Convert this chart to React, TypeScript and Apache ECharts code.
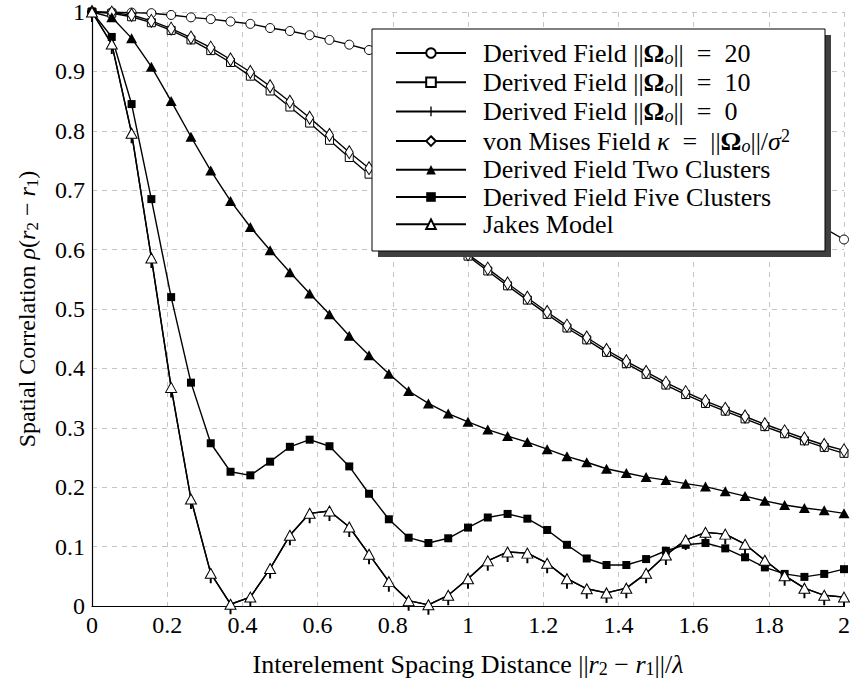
import React, { useEffect, useRef } from "react";
import * as echarts from "echarts";

const X_VALUES = [
  0, 0.0526, 0.1053, 0.1579, 0.2105, 0.2632, 0.3158, 0.3684, 0.4211, 0.4737,
  0.5263, 0.5789, 0.6316, 0.6842, 0.7368, 0.7895, 0.8421, 0.8947, 0.9474, 1.0,
  1.0526, 1.1053, 1.1579, 1.2105, 1.2632, 1.3158, 1.3684, 1.4211, 1.4737, 1.5263,
  1.5789, 1.6316, 1.6842, 1.7368, 1.7895, 1.8421, 1.8947, 1.9474, 2.0,
];

const OMEGA20 = [
  1.0, 0.9995, 0.999, 0.998, 0.995, 0.991, 0.988, 0.984, 0.98, 0.973,
  0.968, 0.961, 0.953, 0.945, 0.936, 0.927, 0.917, 0.907, 0.897, 0.887,
  0.876, 0.864, 0.853, 0.841, 0.828, 0.816, 0.803, 0.789, 0.775, 0.761,
  0.747, 0.732, 0.717, 0.701, 0.686, 0.669, 0.653, 0.636, 0.617,
];

const OMEGA10 = [
  1.0, 0.998, 0.992, 0.982, 0.969, 0.953, 0.935, 0.915, 0.892, 0.867,
  0.84, 0.813, 0.784, 0.755, 0.727, 0.7, 0.672, 0.644, 0.616, 0.589,
  0.564, 0.539, 0.515, 0.491, 0.468, 0.448, 0.427, 0.408, 0.39, 0.372,
  0.356, 0.341, 0.328, 0.315, 0.302, 0.29, 0.278, 0.267, 0.257,
];

const OMEGA0 = [
  1.0, 0.946, 0.796, 0.586, 0.368, 0.18, 0.055, 0.003, 0.015, 0.063,
  0.119, 0.156, 0.16, 0.133, 0.087, 0.041, 0.009, 0.002, 0.018, 0.046,
  0.076, 0.091, 0.089, 0.072, 0.046, 0.029, 0.022, 0.03, 0.055, 0.086,
  0.111, 0.124, 0.121, 0.104, 0.077, 0.051, 0.03, 0.018, 0.015,
];

const VON_MISES = [
  1.0, 0.999, 0.995, 0.985, 0.972, 0.957, 0.94, 0.92, 0.899, 0.875,
  0.849, 0.822, 0.793, 0.764, 0.737, 0.708, 0.679, 0.65, 0.621, 0.592,
  0.568, 0.543, 0.519, 0.495, 0.472, 0.452, 0.431, 0.412, 0.394, 0.376,
  0.36, 0.345, 0.332, 0.319, 0.306, 0.294, 0.282, 0.271, 0.262,
];

const TWO_CLUSTERS = [
  1.0, 0.991, 0.956, 0.908, 0.85, 0.79, 0.733, 0.682, 0.638, 0.599,
  0.562, 0.526, 0.491, 0.455, 0.422, 0.391, 0.362, 0.341, 0.324, 0.31,
  0.297, 0.286, 0.276, 0.264, 0.252, 0.242, 0.231, 0.224, 0.217, 0.212,
  0.206, 0.201, 0.193, 0.185, 0.177, 0.17, 0.165, 0.161, 0.156,
];

const FIVE_CLUSTERS = [
  1.0, 0.958, 0.845, 0.685, 0.52, 0.376, 0.274, 0.226, 0.22, 0.243,
  0.268, 0.28, 0.269, 0.235, 0.189, 0.146, 0.115, 0.106, 0.114, 0.132,
  0.149, 0.155, 0.147, 0.128, 0.103, 0.08, 0.069, 0.069, 0.079, 0.093,
  0.103, 0.106, 0.097, 0.082, 0.065, 0.054, 0.049, 0.054, 0.062,
];

const JAKES = [
  1.0, 0.946, 0.796, 0.586, 0.368, 0.18, 0.055, 0.003, 0.015, 0.063,
  0.119, 0.156, 0.16, 0.133, 0.087, 0.041, 0.009, 0.002, 0.018, 0.046,
  0.076, 0.091, 0.089, 0.072, 0.046, 0.029, 0.022, 0.03, 0.055, 0.086,
  0.111, 0.124, 0.121, 0.104, 0.077, 0.051, 0.03, 0.018, 0.015,
];

const SERIES_NAMES = [
  "Derived Field Omega 20",
  "Derived Field Omega 10",
  "Derived Field Omega 0",
  "von Mises Field",
  "Derived Field Two Clusters",
  "Derived Field Five Clusters",
  "Jakes Model",
];

const LEGEND_RICH_LABELS: Record<string, string> = {
  "Derived Field Omega 20": "{n|Derived Field ||}{b|Ω}{sub|o}{n|||  =  20}",
  "Derived Field Omega 10": "{n|Derived Field ||}{b|Ω}{sub|o}{n|||  =  10}",
  "Derived Field Omega 0": "{n|Derived Field ||}{b|Ω}{sub|o}{n|||  =  0}",
  "von Mises Field": "{n|von Mises Field }{i|κ}{n|  =  ||}{b|Ω}{sub|o}{n|||/}{i|σ}{sup|2}",
  "Derived Field Two Clusters": "{n|Derived Field Two Clusters}",
  "Derived Field Five Clusters": "{n|Derived Field Five Clusters}",
  "Jakes Model": "{n|Jakes Model}",
};

const X_TITLE = "{n|Interelement Spacing Distance ||}{i|r}{subu|2}{n| − }{i|r}{subu|1}{n|||/}{i|λ}";
const Y_TITLE = "{n|Spatial Correlation }{i|ρ}{n|(}{i|r}{subu|2}{n| − }{i|r}{subu|1}{n|)}";

const FONT = "Liberation Serif, Times New Roman, serif";

function richStyles(size: number, lh: number) {
  const s = Math.round(size * 0.7);
  const p = Math.round(size * 0.4);
  const common = { fontFamily: FONT, color: "#000", lineHeight: lh };
  return {
    n: { ...common, fontSize: size, fontStyle: "normal", fontWeight: "normal" },
    i: { ...common, fontSize: size, fontStyle: "italic", fontWeight: "normal" },
    b: { ...common, fontSize: size, fontStyle: "normal", fontWeight: "bold" },
    sub: { ...common, fontSize: s, fontStyle: "italic", fontWeight: "normal", padding: [p, 0, 0, 0] },
    subu: { ...common, fontSize: s, fontStyle: "normal", fontWeight: "normal", padding: [p, 0, 0, 0] },
    sup: { ...common, fontSize: s, fontStyle: "normal", fontWeight: "normal", padding: [0, 0, p + 1, 0] },
    t: { ...common, fontSize: 24, fontStyle: "normal", fontWeight: "normal", lineHeight: 26 },
  };
}

const BAR_SYMBOL = "path://M0,5L10,5M4.3,0L5.7,0L5.7,10L4.3,10Z";

function tickFormatter(v: number) {
  const s = String(Math.round(v * 10) / 10);
  return "{t|" + s + "}";
}

export default function App() {
  const ref = useRef<HTMLDivElement>(null);

  useEffect(() => {
    document.body.style.margin = "0";
    if (!ref.current) return;
    const chart = echarts.init(ref.current, null, { renderer: "svg" });

    const mk = (vals: number[]) => X_VALUES.map((x, i) => [x, vals[i]]);

    const base = (
      name: string,
      vals: number[],
      symbol: string,
      size: any,
      fill: string,
      border: number,
      offset: number[] = [0, 0]
    ) => ({
      name,
      type: "line",
      data: mk(vals),
      symbol,
      symbolSize: size,
      symbolOffset: offset,
      showAllSymbol: true,
      clip: false,
      lineStyle: { color: "#000", width: 1.4 },
      itemStyle: { color: fill, borderColor: "#000", borderWidth: border, opacity: 1 },
      emphasis: { disabled: true },
      z: 2,
    });

    const series = [
      base(SERIES_NAMES[0], OMEGA20, "circle", 9, "#fff", 1),
      base(SERIES_NAMES[1], OMEGA10, "rect", 8, "#fff", 1),
      base(SERIES_NAMES[2], OMEGA0, BAR_SYMBOL, 14, "#000", 0, [0, 3]),
      base(SERIES_NAMES[3], VON_MISES, "diamond", [8, 13], "#fff", 1),
      base(SERIES_NAMES[4], TWO_CLUSTERS, "triangle", [11, 10], "#000", 0),
      base(SERIES_NAMES[5], FIVE_CLUSTERS, "rect", 8, "#000", 0),
      base(SERIES_NAMES[6], JAKES, "triangle", [11, 10], "#fff", 1),
    ];

    const axisLabelStyle = {
      fontFamily: FONT,
      fontSize: 24,
      fontStyle: "normal",
      fontWeight: "normal",
      color: "#000",
      formatter: tickFormatter,
      rich: richStyles(24, 26),
    };
    const splitLine = { show: true, lineStyle: { color: "#c4c4c4", type: [5, 5], width: 1 } };

    chart.setOption({
      animation: false,
      textStyle: { fontFamily: FONT, fontStyle: "normal", fontWeight: "normal" },
      grid: { left: 92, right: 5, top: 12, bottom: 76, containLabel: false },
      xAxis: {
        type: "value",
        min: 0,
        max: 2,
        interval: 0.2,
        name: X_TITLE,
        nameLocation: "middle",
        nameGap: 43,
        nameTextStyle: { fontFamily: FONT, fontSize: 26, rich: richStyles(26, 30) },
        axisLine: { show: true, onZero: false, lineStyle: { color: "#000", width: 1.2 } },
        axisTick: { show: false },
        axisLabel: { ...axisLabelStyle, margin: 6 },
        splitLine,
      },
      yAxis: {
        type: "value",
        min: 0,
        max: 1,
        interval: 0.1,
        name: Y_TITLE,
        nameLocation: "middle",
        nameGap: 51,
        nameTextStyle: { fontFamily: FONT, fontSize: 24, rich: richStyles(24, 28) },
        axisLine: { show: true, onZero: false, lineStyle: { color: "#000", width: 1.2 } },
        axisTick: { show: false },
        axisLabel: { ...axisLabelStyle, margin: 7 },
        splitLine,
      },
      legend: {
        show: true,
        orient: "vertical",
        left: 395,
        top: 39,
        padding: 0,
        itemWidth: 70,
        itemHeight: 12,
        itemGap: 1.2,
        selectedMode: false,
        z: 20,
        data: SERIES_NAMES,
        formatter: (name: string) => LEGEND_RICH_LABELS[name],
        textStyle: {
          fontFamily: FONT,
          fontSize: 26,
          fontStyle: "normal",
          fontWeight: "normal",
          padding: [0, 0, 0, 12],
          rich: richStyles(26, 28),
        },
      },
      graphic: {
        elements: [
          {
            type: "rect",
            z: 15,
            shape: { x: 378, y: 35, width: 453, height: 222 },
            style: { fill: "#3f3f3f" },
            silent: true,
          },
          {
            type: "rect",
            z: 16,
            shape: { x: 372, y: 29, width: 453, height: 222 },
            style: { fill: "#fff", stroke: "#000", lineWidth: 1 },
            silent: true,
          },
        ],
      },
      series,
    });

    return () => chart.dispose();
  }, []);

  return <div ref={ref} style={{ width: 853, height: 683 }} />;
}
